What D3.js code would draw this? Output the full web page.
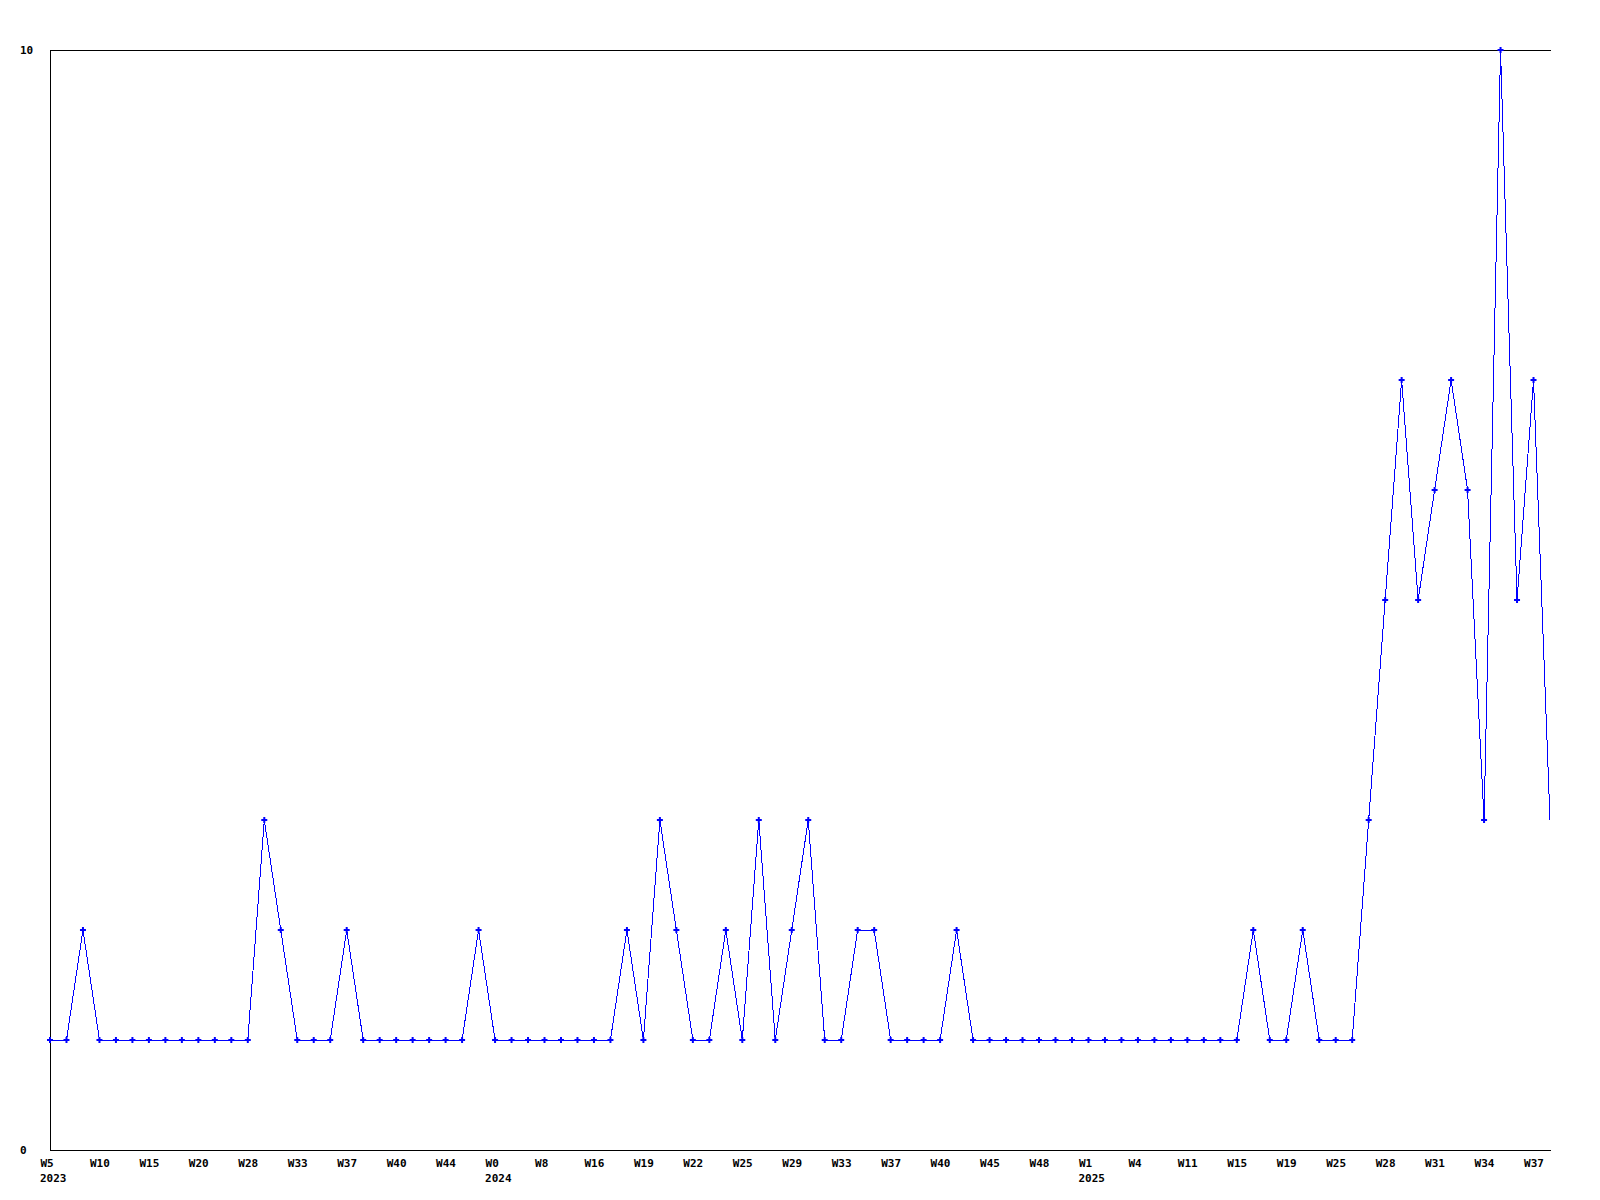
<!DOCTYPE html>
<html>
<head>
<meta charset="utf-8">
<script src="https://cdn.jsdelivr.net/npm/d3@7"></script>
<style>
  body { margin: 0; background: #fff; }
  text { font-family: "DejaVu Sans Mono", monospace; font-size: 11px; font-weight: bold; fill: #000; }
</style>
</head>
<body>
<svg width="1600" height="1200"></svg>
<script>
// DATA

// one value per week that has data (92 points)
var counts = [1, 1, 2, 1, 1, 1, 1, 1, 1, 1, 1, 1, 1, 3, 2, 1, 1, 1, 2, 1,
              1, 1, 1, 1, 1, 1, 2, 1, 1, 1, 1, 1, 1, 1, 1, 2, 1, 3, 2, 1,
              1, 2, 1, 3, 1, 2, 3, 1, 1, 2, 2, 1, 1, 1, 1, 2, 1, 1, 1, 1,
              1, 1, 1, 1, 1, 1, 1, 1, 1, 1, 1, 1, 1, 2, 1, 1, 2, 1, 1, 1,
              3, 5, 7, 5, 6, 7, 6, 3, 10, 5, 7, 3];

// a week label on every third point
var weekLabels = ["W5", "W10", "W15", "W20", "W28", "W33", "W37", "W40", "W44",
                  "W0", "W8", "W16", "W19", "W22", "W25", "W29", "W33", "W37", "W40", "W45", "W48",
                  "W1", "W4", "W11", "W15", "W19", "W25", "W28", "W31", "W34", "W37"];
var labelStep = 3;

// year shown under the first week of that year (index into weekLabels)
var yearLabels = ["2023", "2024", "2025"];
var yearAt = [0, 9, 21];

var yTicks = [0, 10];


// CHART

var svg = d3.select("svg"),
    plotLeft = 50, plotRight = 1550, plotTop = 50, plotBottom = 1150;

var x = d3.scaleLinear()
    .domain([0, counts.length - 1])
    .range([plotLeft, plotRight]);

var y = d3.scaleLinear()
    .domain([0, 10])
    .range([plotBottom, plotTop]);

// frame: left, top, bottom
svg.append("g")
    .attr("stroke", "#000")
    .attr("shape-rendering", "crispEdges")
    .selectAll("line")
    .data([[plotLeft, plotTop, plotLeft, plotBottom],
           [plotLeft, plotTop, plotRight + 1, plotTop],
           [plotLeft, plotBottom, plotRight + 1, plotBottom]])
    .enter().append("line")
      .attr("x1", function(d) { return d[0]; })
      .attr("y1", function(d) { return d[1]; })
      .attr("x2", function(d) { return d[2]; })
      .attr("y2", function(d) { return d[3]; });

// y axis, only 0 and 10
var yAxis = svg.append("g")
    .call(d3.axisLeft(y).tickValues(yTicks).tickSize(0).tickFormat(d3.format("d")));
yAxis.select(".domain").remove();
yAxis.selectAll("text")
    .attr("x", 20)
    .attr("dy", "0.35em")
    .attr("text-anchor", "start");

// x axis, week labels every third point
var tickIdx = weekLabels.map(function(d, i) { return i * labelStep; });
var xAxis = svg.append("g")
    .attr("transform", "translate(0," + plotBottom + ")")
    .call(d3.axisBottom(x).tickValues(tickIdx).tickSize(0)
      .tickFormat(function(d) { return weekLabels[d / labelStep]; }));
xAxis.select(".domain").remove();
xAxis.selectAll("text")
    .attr("y", 17)
    .attr("dy", 0)
    .attr("dx", -10)
    .attr("text-anchor", "start");

// years on a second row
svg.append("g").selectAll("text")
    .data(yearLabels)
    .enter().append("text")
      .attr("x", function(d, i) { return x(yearAt[i] * labelStep) - 10; })
      .attr("y", plotBottom + 32)
      .text(function(d) { return d; });

// the line
var line = d3.line()
    .x(function(d, i) { return x(i); })
    .y(function(d) { return y(d); });

svg.append("path")
    .datum(counts)
    .attr("fill", "none")
    .attr("stroke", "#0000ff")
    .attr("stroke-width", 1)
    .attr("shape-rendering", "crispEdges")
    .attr("d", line);

// markers (last point has none)
svg.append("g").selectAll("path")
    .data(counts.slice(0, counts.length - 1))
    .enter().append("path")
      .attr("fill", "#0000ff")
      .attr("transform", function(d, i) { return "translate(" + x(i) + "," + y(d) + ")"; })
      .attr("d", d3.symbol(d3.symbolCross, 20));
</script>
</body>
</html>
